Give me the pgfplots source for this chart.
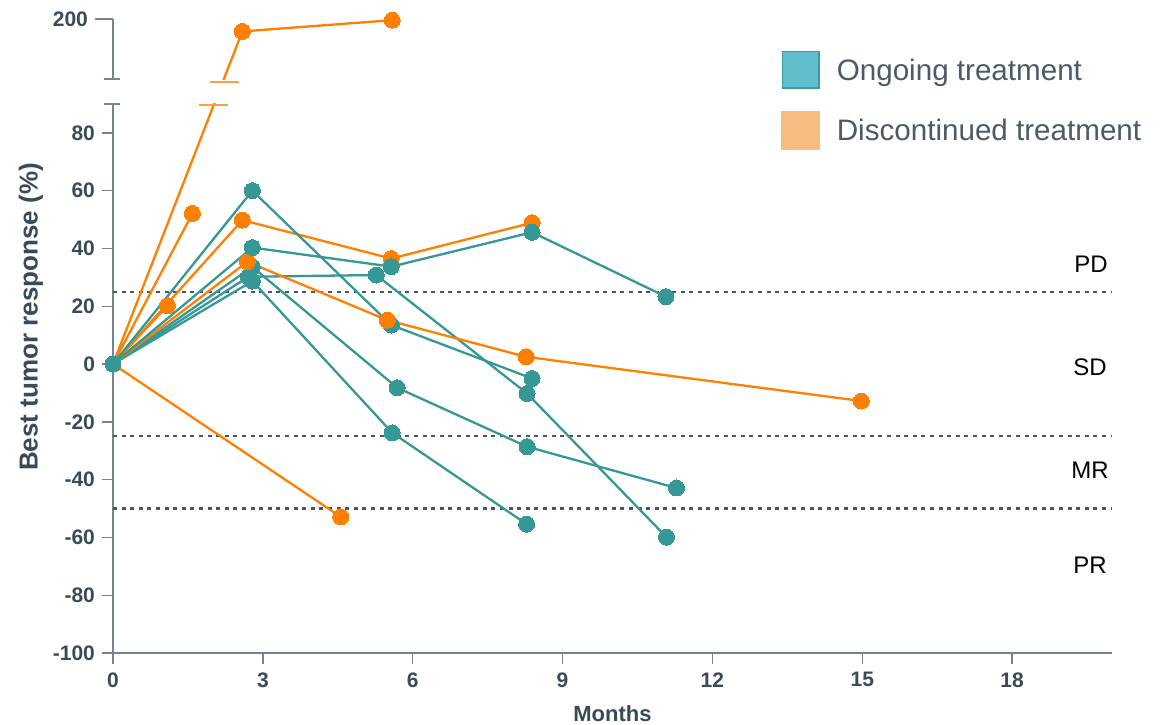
\documentclass[border=0pt]{standalone}
\usepackage{pgfplots}
\pgfplotsset{compat=1.18}
\usepackage{fontspec}
\setmainfont{Liberation Sans}
\definecolor{tealc}{RGB}{54,152,150}
\definecolor{orangec}{RGB}{255,128,0}
\definecolor{axisgray}{RGB}{118,132,146}
\definecolor{ticktext}{RGB}{59,74,88}
\definecolor{dotc}{RGB}{74,85,98}
\definecolor{legtext}{RGB}{75,90,104}
\definecolor{ongfill}{RGB}{98,190,207}
\definecolor{ongedge}{RGB}{58,158,152}
\definecolor{disfill}{RGB}{249,188,128}
\pgfplotsset{
  teal/.style={color=tealc, line width=1.15pt, mark=*, mark size=4pt, mark options={fill=tealc, draw=tealc, line width=0pt}},
  oran/.style={color=orangec, line width=1.15pt, mark=*, mark size=4pt, mark options={fill=orangec, draw=orangec, line width=0pt}},
  dotl/.style={color=dotc, line width=1.1pt, dash pattern=on 2pt off 2.3pt, no markers},
}
\begin{document}
\begin{tikzpicture}
\useasboundingbox (0,0) rectangle (584pt,362pt);
\begin{axis}[
  at={(56.5pt,35.5pt)}, anchor=south west,
  scale only axis, width=499.5pt, height=317pt,
  xmin=0, xmax=20, ymin=-100, ymax=200,
  y coord trafo/.code={\pgfmathparse{#1>90 ? #1-80.6 : #1}},
  y coord inv trafo/.code={\pgfmathparse{#1>90 ? #1+80.6 : #1}},
  axis x line=bottom, axis y line=left,
  axis line style={-, draw=axisgray, line width=0.7pt},
  clip=false,
  xtick={0,3,...,18},
  ytick={-100,-80,...,80},
  extra y ticks={200},
  extra y tick style={major tick length=9pt},
  tick align=outside, major tick length=5.5pt,
  tick style={draw=axisgray, line width=0.7pt},
  tick label style={font=\fontsize{10.5pt}{12pt}\selectfont\bfseries, text=ticktext},
  xticklabel style={yshift=-0.7pt},
  /pgf/number format/assume math mode=true,
  xlabel={Months}, ylabel={Best tumor response (\%)},
  xlabel style={at={(axis description cs:0.5,-0.095)}, anchor=center, font=\fontsize{11pt}{13pt}\selectfont\bfseries, text=ticktext},
  ylabel style={at={(axis description cs:-0.0821,0.53)}, anchor=center, font=\fontsize{13pt}{15pt}\selectfont\bfseries, text=ticktext},
  legend cell align=left,
  legend style={at={(0.6687,0.9505)}, anchor=north west, draw=none, fill=none, inner sep=0pt, row sep=11pt,
    nodes={inner sep=0pt, anchor=base west},
    font=\fontsize{14.8pt}{17pt}\selectfont\color{legtext}},
]
\addlegendimage{legend image code/.code={\draw[fill=ongfill, draw=ongedge, line width=0.8pt] (-26.9pt,-3.8pt) rectangle (-8.7pt,14.4pt); \path (0pt,0pt);}}
\addlegendentry{Ongoing treatment}
\addlegendimage{legend image code/.code={\fill[disfill] (-27.3pt,-4.2pt) rectangle (-8.3pt,14.8pt); \path (0pt,0pt);}}
\addlegendentry{Discontinued treatment}

\addplot[dotl] coordinates {(0,25) (20,25)};
\addplot[dotl] coordinates {(0,-25) (20,-25)};
\addplot[dotl] coordinates {(0,-50) (20,-50)};

\addplot[oran] coordinates {(0,0) (2.59,49.8) (5.57,36.5) (8.39,48.9)};
\addplot[oran] coordinates {(0,0) (1.09,20.2)};
\addplot[oran] coordinates {(0,0) (1.59,52.1)};
\addplot[oran] coordinates {(0,0) (4.56,-52.9)};
\addplot[oran] coordinates {(0,0) (2.59,195.7) (5.59,199.6)};
\addplot[teal] coordinates {(0,0) (2.79,60.0) (5.57,13.5) (8.39,-5.0)};
\addplot[teal] coordinates {(0,0) (2.71,30.2) (5.27,30.8) (8.29,-10.2) (11.08,-59.9)};
\addplot[teal] coordinates {(0,0) (2.79,33.6) (5.69,-8.2) (8.29,-28.6) (11.28,-42.9)};
\addplot[teal] coordinates {(0,0) (2.79,28.7) (5.59,-23.8) (8.28,-55.4)};
\addplot[oran] coordinates {(0,0) (2.69,35.4) (5.49,15.2) (8.27,2.5) (14.98,-12.8)};
\addplot[teal] coordinates {(0,0) (2.79,40.3) (5.57,33.7) (8.39,45.6) (11.07,23.3)};

\node[anchor=east, inner sep=0pt, font=\fontsize{12pt}{14pt}\selectfont] at (axis cs:19.92,34.6) {PD};
\node[anchor=east, inner sep=0pt, font=\fontsize{12pt}{14pt}\selectfont] at (axis cs:19.90,-1.0) {SD};
\node[anchor=east, inner sep=0pt, font=\fontsize{12pt}{14pt}\selectfont] at (axis cs:19.94,-36.7) {MR};
\node[anchor=east, inner sep=0pt, font=\fontsize{12pt}{14pt}\selectfont] at (axis cs:19.90,-69.6) {PR};
\end{axis}
% axis break gap
\fill[white] (45pt,310.25pt) rectangle (130pt,322pt);
\draw[axisgray, line width=0.7pt] (52pt,322.5pt) -- (60pt,322.5pt);
\draw[axisgray, line width=0.7pt] (52pt,310pt) -- (60pt,310pt);
\draw[orangec!75, line width=0.6pt] (105pt,321pt) -- (119.5pt,321pt);
\draw[orangec!75, line width=0.6pt] (99.5pt,309.5pt) -- (114pt,309.5pt);
\end{tikzpicture}
\end{document}
